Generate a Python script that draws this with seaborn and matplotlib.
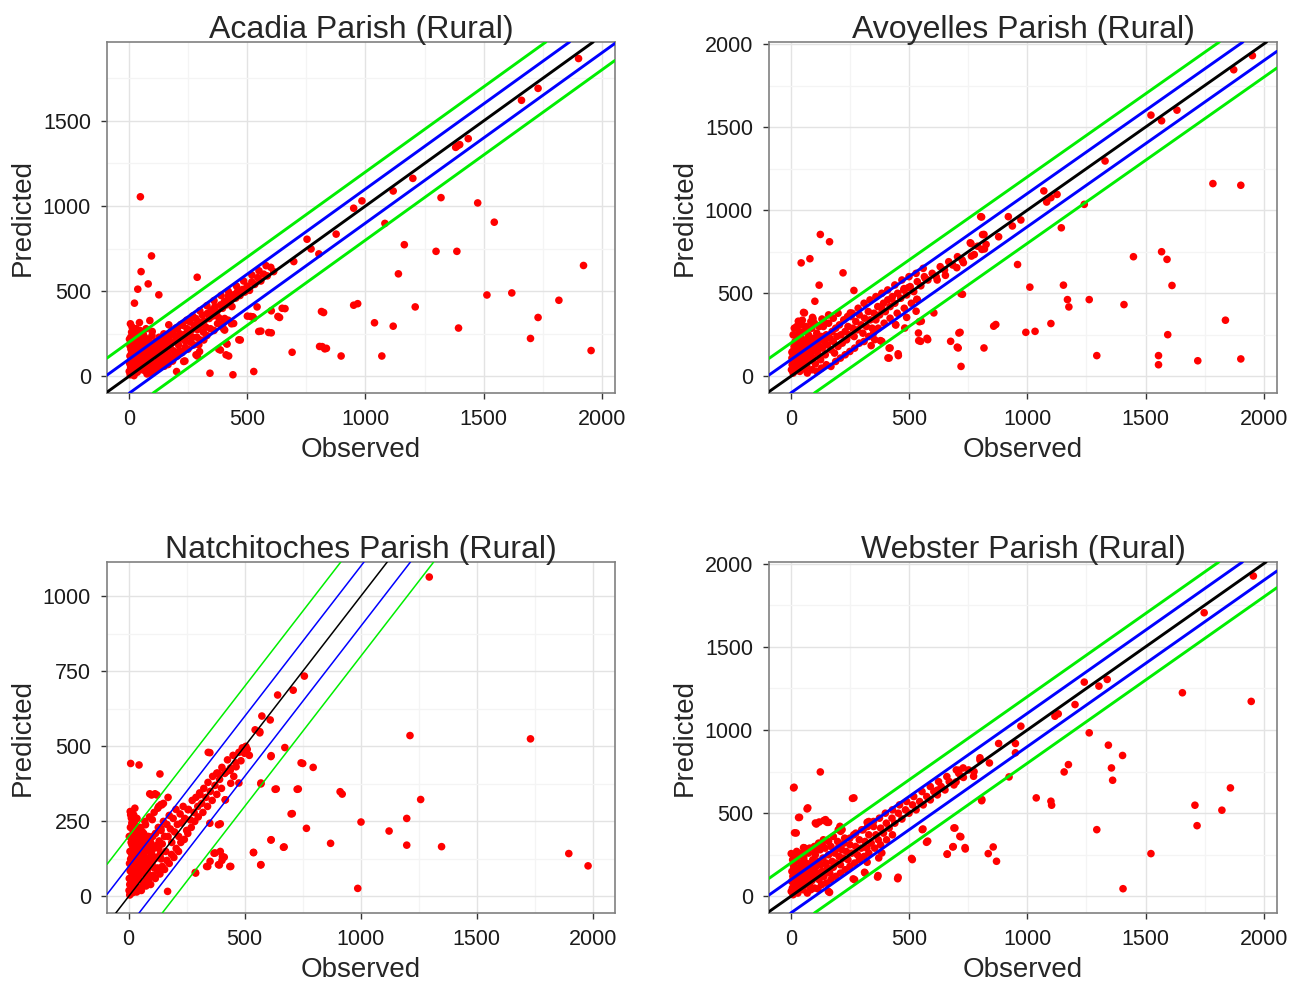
import matplotlib
matplotlib.use("Agg")
import matplotlib.pyplot as plt
import seaborn as sns
import pandas as pd

# observed vs predicted, four rural parishes

titles = ["Acadia Parish (Rural)", "Avoyelles Parish (Rural)",
          "Natchitoches Parish (Rural)", "Webster Parish (Rural)"]

x_ticks = [0, 500, 1000, 1500, 2000]
y_ticks_acadia = [0, 500, 1000, 1500]
y_ticks_avoyelles = [0, 500, 1000, 1500, 2000]
y_ticks_natchitoches = [0, 250, 500, 750, 1000]
y_ticks_webster = [0, 500, 1000, 1500, 2000]

# reference line offsets (y = x + offset) and colours
band_offsets = [-200, -100, 0, 100, 200]
band_colors = ["#00EE00", "#0000FF", "#000000", "#0000FF", "#00EE00"]

acadia_pts = [
    (49, 1054), (96, 707), (52, 615), (82, 543), (38, 512), (127, 479), (24, 430), (289, 582),
    (7, 309), (45, 316), (89, 328), (25, 264), (3, 219), (99, 264), (169, 303), (14, 290), (60, 250), (35, 240),
    (753, 805), (770, 748), (697, 674), (803, 719), (876, 835), (950, 987), (985, 1030), (1117, 1088),
    (1200, 1162), (1082, 898), (1381, 1344), (1398, 1360), (1434, 1395), (1659, 1620), (1729, 1690),
    (1900, 1865), (1388, 1352),
    (1319, 1049), (1474, 1018), (1544, 905), (1921, 651), (1953, 152), (1817, 447), (1729, 346), (1697, 223),
    (1618, 490), (1513, 478), (1393, 284), (1386, 734), (1298, 734), (1164, 773), (1139, 602), (1210, 408),
    (1117, 295), (1038, 315), (1069, 120), (897, 120), (835, 165), (817, 175), (823, 375), (950, 418),
    (967, 427), (690, 142), (660, 398), (637, 346), (602, 256), (558, 266), (602, 385), (528, 29),
    (524, 350), (542, 408), (440, 10), (343, 19), (422, 120), (471, 214), (413, 194), (387, 155),
    (290, 120), (237, 91), (202, 29), (299, 146), (317, 214), (405, 272), (443, 311), (501, 354),
    (814, 381), (806, 176), (828, 162), (465, 215), (401, 278), (415, 190), (380, 160), (411, 127),
    (284, 127), (296, 186), (232, 88), (434, 309), (399, 313), (648, 400), (630, 352), (591, 258),
    (549, 264), (514, 352), (528, 342),
    (2, 30), (4, 75), (5, 120), (6, 10), (8, 55), (9, 160), (10, 95), (11, 35), (12, 140), (13, 70),
    (15, 190), (16, 20), (17, 110), (18, 50), (20, 85), (21, 150), (22, 5), (24, 120), (25, 60),
    (26, 180), (28, 95), (29, 40), (30, 135), (32, 210), (33, 70), (35, 105), (36, 25), (38, 160),
    (40, 85), (41, 130), (43, 50), (45, 195), (46, 100), (48, 140), (50, 70), (51, 230), (53, 115),
    (55, 165), (56, 40), (58, 95), (60, 185), (62, 130), (64, 60), (66, 150), (68, 205), (70, 100),
    (72, 170), (74, 80), (76, 125), (78, 220), (80, 145), (82, 60), (85, 175), (87, 115), (90, 200),
    (92, 90), (95, 150), (98, 240), (100, 120), (103, 180), (106, 75), (110, 160), (113, 205),
    (116, 130), (120, 185), (124, 100), (128, 230), (132, 155), (136, 200), (140, 120), (144, 175),
    (148, 250), (152, 150), (156, 210), (160, 185), (165, 130), (170, 225), (175, 170), (180, 260),
    (185, 200), (190, 150), (195, 240), (200, 210), (205, 280), (210, 185), (216, 250), (222, 220),
    (228, 300), (234, 245), (240, 205), (246, 280), (252, 240), (258, 320), (264, 270), (270, 230),
    (276, 300), (283, 340), (290, 275), (297, 320), (304, 300), (311, 360), (318, 325), (325, 290),
    (332, 370), (340, 340), (348, 390), (356, 355), (364, 410), (372, 380), (380, 345), (388, 420),
    (396, 400), (404, 440), (412, 420), (420, 470), (428, 445), (436, 410), (444, 480), (452, 460),
    (460, 500), (470, 475), (480, 510), (490, 495), (500, 530), (510, 505), (520, 555), (532, 540),
    (545, 580), (558, 560), (570, 600), (585, 590), (600, 640), (612, 615),
    (5, 180), (8, 230), (12, 260), (18, 200), (23, 250), (27, 220), (31, 280), (37, 200), (42, 245),
    (47, 270), (55, 210), (63, 240), (67, 35), (73, 280), (77, 15), (84, 30), (93, 20), (97, 50),
    (105, 30), (112, 55), (118, 40), (125, 70), (135, 60), (145, 90), (150, 60), (158, 100), (166, 70),
    (175, 110), (185, 90), (195, 130), (205, 120), (215, 150), (225, 140), (238, 170), (250, 160),
    (262, 200), (275, 185), (288, 230), (300, 215), (315, 260), (330, 240), (345, 280), (360, 270),
    (375, 310), (390, 300), (405, 340), (420, 330), (140, 225), (160, 245), (180, 265), (200, 285),
    (220, 305), (245, 330), (270, 355), (300, 385), (330, 415), (360, 445), (390, 475), (420, 500),
    (455, 530), (485, 560), (520, 595), (550, 620), (580, 650),
]

avoyelles_pts = [
    (125, 854), (164, 810), (44, 683), (81, 708), (221, 623), (120, 549), (102, 452), (267, 517),
    (58, 382), (32, 332), (49, 338), (94, 346), (252, 382), (5, 145), (132, 345), (92, 355), (54, 385),
    (803, 961), (817, 854), (759, 804), (764, 724), (808, 764), (826, 794), (879, 840), (920, 961),
    (937, 905), (973, 941), (1070, 1116), (1082, 1049), (1100, 1075), (1126, 1095), (1144, 894),
    (1241, 1035), (1329, 1296), (1523, 1572), (1568, 1538), (1633, 1602), (1873, 1845), (1952, 1930),
    (1785, 1160), (1903, 1150), (1449, 720), (1568, 750), (1591, 704), (1612, 547), (1153, 549),
    (1011, 537), (1262, 462), (1170, 462), (1176, 418), (1409, 432), (1100, 318), (994, 265),
    (1033, 271), (867, 312), (858, 302), (959, 673), (720, 497), (711, 261), (676, 211), (708, 171),
    (720, 60), (817, 171), (1294, 125), (1555, 125), (1555, 70), (1721, 94), (1903, 105), (1838, 338),
    (1594, 251), (579, 221), (549, 211), (540, 261), (552, 332), (605, 382), (530, 392), (535, 462),
    (482, 291), (443, 312), (455, 125), (420, 171), (411, 111), (385, 211), (355, 221),
    (426, 469), (479, 528), (497, 534), (533, 464), (544, 329), (576, 229), (541, 215), (416, 170),
    (416, 110), (454, 136), (379, 215), (340, 185), (704, 176), (716, 265), (444, 309), (490, 355),
    (569, 588), (619, 580), (654, 608), (702, 654), (730, 684), (762, 799), (790, 783), (811, 853),
    (807, 959), (819, 767), (726, 494), (776, 733),
    (3, 40), (5, 110), (6, 70), (8, 150), (10, 20), (12, 95), (14, 180), (15, 55), (17, 130),
    (19, 210), (20, 80), (22, 35), (24, 160), (26, 110), (28, 250), (30, 60), (32, 140), (34, 195),
    (36, 90), (38, 30), (40, 170), (42, 120), (44, 230), (46, 75), (48, 150), (50, 200), (52, 105),
    (54, 45), (56, 270), (58, 135), (60, 180), (62, 90), (64, 220), (66, 150), (68, 60), (70, 195),
    (72, 120), (75, 250), (78, 160), (80, 95), (83, 210), (86, 140), (89, 290), (92, 180), (95, 110),
    (98, 230), (101, 160), (104, 75), (107, 200), (110, 260), (114, 140), (118, 220), (122, 180),
    (126, 100), (130, 240), (134, 170), (138, 300), (142, 210), (146, 130), (150, 250), (155, 190),
    (160, 320), (165, 230), (170, 160), (175, 270), (180, 210), (185, 140), (190, 290), (195, 240),
    (200, 180), (206, 310), (212, 250), (218, 200), (224, 340), (230, 270), (236, 220), (242, 300),
    (248, 250), (255, 360), (262, 290), (268, 240), (275, 330), (282, 280), (290, 370), (298, 310),
    (305, 260), (312, 350), (320, 300), (328, 390), (336, 340), (344, 290), (352, 380), (360, 340),
    (368, 420), (376, 370), (384, 410), (392, 440), (400, 390), (410, 460), (420, 420), (430, 480),
    (440, 440), (452, 500), (465, 470), (478, 520), (490, 490), (505, 540), (520, 510), (535, 570),
    (550, 545), (565, 600), (580, 580), (598, 620), (615, 600), (632, 660), (650, 640), (668, 690),
    (685, 670), (705, 720), (725, 700),
    (10, 250), (15, 290), (25, 300), (35, 270), (45, 310), (65, 300), (85, 330), (100, 320), (120, 300),
    (140, 330), (160, 370), (180, 350), (200, 380), (70, 20), (90, 40), (110, 30), (130, 50), (150, 70),
    (170, 60), (190, 90), (210, 110), (230, 130), (250, 150), (270, 170), (290, 200), (310, 210),
    (330, 240), (350, 260), (370, 290), (240, 360), (260, 380), (285, 410), (310, 440), (335, 460),
    (360, 480), (385, 500), (410, 520), (440, 550), (470, 580), (500, 600), (530, 620), (560, 650),
    (395, 320), (420, 350), (450, 380), (480, 410), (510, 440),
]

natchitoches_pts = [
    (1295, 1064), (757, 734), (709, 687), (642, 671), (574, 601), (610, 588), (565, 549), (613, 466),
    (673, 496), (511, 490), (499, 477), (350, 479), (484, 452), (463, 432), (422, 416), (386, 410),
    (440, 377), (570, 375), (416, 322), (750, 443), (795, 430), (631, 357), (726, 357), (911, 349),
    (920, 341), (1258, 323), (1212, 536), (1731, 525), (700, 275), (766, 227), (1001, 248), (1122, 218),
    (1198, 260), (1198, 171), (1348, 166), (870, 177), (613, 188), (667, 164), (538, 146), (569, 105),
    (987, 27), (1896, 143), (1979, 102), (287, 80), (440, 100), (391, 105), (404, 133), (368, 144),
    (341, 100), (395, 242), (350, 244), (9, 443), (45, 438), (135, 408), (99, 338), (122, 338),
    (143, 305), (126, 294), (9, 272), (27, 294), (36, 260),
    (343, 480), (91, 342), (114, 342), (139, 306), (7, 283), (22, 272), (12, 261), (29, 256),
    (102, 256), (73, 239), (58, 217), (36, 200), (44, 183), (15, 172), (29, 156), (139, 228),
    (307, 339), (256, 289), (380, 411), (439, 428), (453, 400), (475, 378), (490, 489), (504, 498),
    (417, 322), (387, 239), (373, 145), (395, 150), (412, 131), (402, 120), (351, 117), (387, 106),
    (436, 100), (336, 100), (289, 78), (168, 17), (614, 189), (670, 165), (538, 147), (570, 106),
    (614, 469), (636, 358), (731, 358), (705, 276), (743, 445), (570, 378),
    (2, 20), (3, 60), (4, 110), (5, 40), (6, 150), (7, 85), (8, 10), (9, 125), (10, 55), (11, 180),
    (12, 95), (13, 30), (14, 140), (15, 70), (16, 200), (17, 105), (18, 45), (19, 160), (20, 80),
    (21, 120), (22, 15), (23, 190), (24, 65), (25, 135), (26, 100), (27, 50), (28, 170), (29, 90),
    (30, 140), (31, 30), (32, 115), (33, 75), (34, 160), (35, 105), (36, 55), (37, 130), (38, 85),
    (39, 180), (40, 110), (42, 60), (44, 145), (46, 95), (48, 120), (50, 75), (52, 165), (54, 105),
    (56, 135), (58, 80), (60, 150), (62, 110), (64, 40), (66, 170), (68, 125), (70, 90), (72, 150),
    (75, 60), (78, 190), (80, 120), (83, 95), (86, 160), (89, 130), (92, 70), (95, 180), (98, 145),
    (101, 110), (104, 200), (108, 160), (112, 125), (116, 210), (120, 170), (124, 95), (128, 230),
    (132, 185), (136, 140), (140, 220), (145, 175), (150, 250), (155, 200), (160, 150), (165, 240),
    (170, 200), (175, 270), (180, 225), (186, 180), (192, 260), (198, 215), (204, 290), (210, 240),
    (216, 200), (222, 275), (228, 245), (235, 300), (242, 260), (250, 220), (258, 290), (266, 255),
    (274, 320), (282, 280), (290, 330), (298, 300), (306, 345), (315, 310), (324, 360), (333, 330),
    (342, 380), (352, 350), (362, 400), (372, 370), (382, 410), (392, 390), (402, 430), (414, 410),
    (426, 455), (438, 420), (450, 470), (462, 445), (475, 480), (490, 495), (505, 500), (520, 470),
    (545, 555), (565, 545),
    (3, 200), (8, 230), (14, 245), (20, 215), (26, 240), (33, 225), (45, 205), (55, 190), (65, 210),
    (75, 180), (85, 200), (5, 5), (15, 12), (25, 25), (35, 15), (45, 30), (55, 20), (65, 45), (75, 35),
    (85, 55), (95, 40), (105, 70), (115, 60), (125, 85), (135, 75), (145, 100), (155, 90), (165, 120),
    (175, 110), (185, 140), (195, 130), (205, 160), (215, 150), (225, 180), (240, 190), (255, 210),
    (270, 230), (285, 250), (300, 265), (320, 280), (340, 300), (360, 320), (380, 340), (400, 360),
    (30, 180), (50, 230), (70, 250), (90, 265), (110, 280), (130, 300), (150, 310), (170, 330),
    (60, 100), (70, 130), (80, 85), (90, 110), (100, 140), (110, 95), (120, 130), (130, 160), (140, 125),
]

webster_pts = [
    (1956, 1926), (1748, 1705), (1656, 1224), (1947, 1172), (1338, 1304), (1303, 1264), (1241, 1288),
    (1202, 1153), (1117, 1083), (1131, 1097), (973, 1023), (1262, 983), (1343, 909), (1403, 847),
    (1356, 772), (1361, 698), (1174, 792), (1156, 748), (950, 919), (950, 863), (923, 718), (879, 919),
    (800, 833), (840, 802), (711, 758), (729, 772), (720, 722), (773, 722), (699, 688), (808, 582),
    (1038, 592), (1100, 572), (1103, 548), (1709, 548), (1718, 425), (1823, 518), (1859, 652),
    (1294, 401), (1523, 257), (1405, 46), (694, 411), (715, 361), (738, 285), (685, 297), (662, 255),
    (574, 325), (556, 401), (835, 257), (856, 297), (870, 211), (514, 221), (452, 106), (367, 116),
    (270, 100), (314, 140), (323, 205), (372, 231), (385, 261), (164, 24), (125, 748), (14, 656),
    (72, 532), (37, 475), (23, 381), (108, 435), (120, 447), (147, 461), (160, 445), (267, 592),
    (2, 257), (217, 401), (208, 421), (108, 285), (58, 291), (323, 445),
    (12, 652), (261, 589), (69, 526), (33, 474), (104, 441), (140, 456), (154, 445), (16, 382),
    (201, 401), (211, 391), (330, 450), (54, 293), (104, 273), (133, 312), (264, 105), (312, 145),
    (369, 125), (454, 115), (159, 30), (511, 228), (559, 405), (579, 332), (690, 411), (719, 358),
    (687, 299), (737, 293), (661, 253), (807, 575), (619, 638),
    (2, 30), (4, 90), (5, 150), (7, 50), (9, 120), (10, 10), (12, 180), (14, 75), (16, 140), (18, 35),
    (20, 100), (22, 210), (24, 60), (26, 160), (28, 110), (30, 20), (32, 240), (34, 130), (36, 80),
    (38, 175), (40, 50), (42, 115), (45, 200), (47, 90), (50, 150), (52, 40), (55, 230), (58, 120),
    (60, 170), (63, 70), (66, 200), (69, 135), (72, 100), (75, 260), (78, 160), (81, 60), (84, 190),
    (87, 130), (90, 95), (93, 220), (96, 160), (100, 120), (104, 250), (108, 180), (112, 140),
    (116, 210), (120, 100), (124, 280), (128, 190), (132, 150), (136, 230), (140, 120), (145, 290),
    (150, 200), (155, 170), (160, 250), (165, 140), (170, 300), (175, 210), (180, 175), (186, 260),
    (192, 200), (198, 330), (204, 240), (210, 190), (216, 280), (222, 230), (228, 350), (235, 270),
    (242, 220), (250, 310), (258, 260), (266, 370), (274, 300), (282, 250), (290, 340), (298, 290),
    (306, 400), (314, 330), (322, 290), (330, 370), (340, 320), (350, 420), (360, 370), (370, 340),
    (380, 410), (392, 380), (404, 440), (416, 410), (428, 470), (440, 440), (455, 500), (470, 465),
    (485, 520), (500, 500), (515, 550), (530, 520), (545, 570), (560, 550), (575, 600), (590, 580),
    (605, 630), (620, 610), (636, 660), (652, 640), (670, 690), (690, 670), (710, 740), (730, 715),
    (752, 760), (775, 750), (800, 820),
    (8, 220), (15, 250), (25, 270), (35, 250), (48, 260), (62, 280), (80, 290), (100, 300), (118, 320),
    (138, 340), (160, 330), (180, 360), (70, 20), (85, 40), (100, 50), (115, 45), (130, 70), (150, 80),
    (170, 100), (190, 120), (210, 140), (230, 160), (250, 180), (270, 200), (290, 220), (310, 240),
    (330, 260), (355, 290), (380, 310), (405, 340), (430, 370), (200, 290), (225, 320), (250, 350),
    (275, 380), (300, 400), (325, 420), (350, 450), (375, 470), (400, 500), (430, 520), (460, 550),
    (490, 570), (520, 600), (555, 630), (590, 660), (625, 690), (660, 720), (700, 760),
]

all_pts = [acadia_pts, avoyelles_pts, natchitoches_pts, webster_pts]
all_yticks = [y_ticks_acadia, y_ticks_avoyelles, y_ticks_natchitoches, y_ticks_webster]
x_limits = [(-92, 2054), (-92, 2056), (-93, 2095), (-92, 2056)]
y_limits = [(-97, 1962), (-100, 2012), (-55, 1114), (-100, 2010)]
line_widths = [2.1, 2.1, 1.1, 2.1]

sns.set_theme(style="white")
plt.rcParams["font.family"] = ["Liberation Sans", "DejaVu Sans"]

fig = plt.figure(figsize=(13.01, 9.85), dpi=100)
W, H = 1301, 985
# panel boxes in pixels: left, top
boxes = [(107, 42), (769, 42), (107, 562), (769, 562)]
bw, bh = 508, 351

for i in range(4):
    left, top = boxes[i]
    ax = fig.add_axes([left / W, 1 - (top + bh) / H, bw / W, bh / H])
    df = pd.DataFrame(all_pts[i], columns=["Observed", "Predicted"])
    sns.scatterplot(data=df, x="Observed", y="Predicted", color="#FF0000", s=30,
                    linewidth=0, edgecolor="none", ax=ax, zorder=2)
    for off, col in zip(band_offsets, band_colors):
        ax.axline((0, off), slope=1, color=col, lw=line_widths[i], zorder=3)

    yt = all_yticks[i]
    ax.set_xlim(*x_limits[i])
    ax.set_ylim(*y_limits[i])
    ax.set_xticks(x_ticks)
    ax.set_yticks(yt)
    step_y = yt[1] - yt[0]
    ax.set_xticks([250, 750, 1250, 1750], minor=True)
    ax.set_yticks([v + step_y / 2 for v in yt if v + step_y / 2 < y_limits[i][1]], minor=True)
    ax.grid(which="major", color="#E3E3E3", lw=1.0)
    ax.grid(which="minor", color="#F4F4F4", lw=0.9)
    ax.set_axisbelow(True)
    for s in ax.spines.values():
        s.set_color("#808080")
        s.set_linewidth(1.2)
    ax.tick_params(which="major", direction="out", length=4.5, width=1.0, color="#333333",
                   labelsize=15.5, labelcolor="#1A1A1A", pad=7, left=True, bottom=True)
    ax.tick_params(which="minor", length=0)
    ax.set_title(titles[i], fontsize=23, pad=3)
    ax.set_xlabel("Observed", fontsize=20, labelpad=5)
    ax.set_ylabel("Predicted", fontsize=20, labelpad=5)

fig.savefig("out.png", dpi=100, facecolor="white")
